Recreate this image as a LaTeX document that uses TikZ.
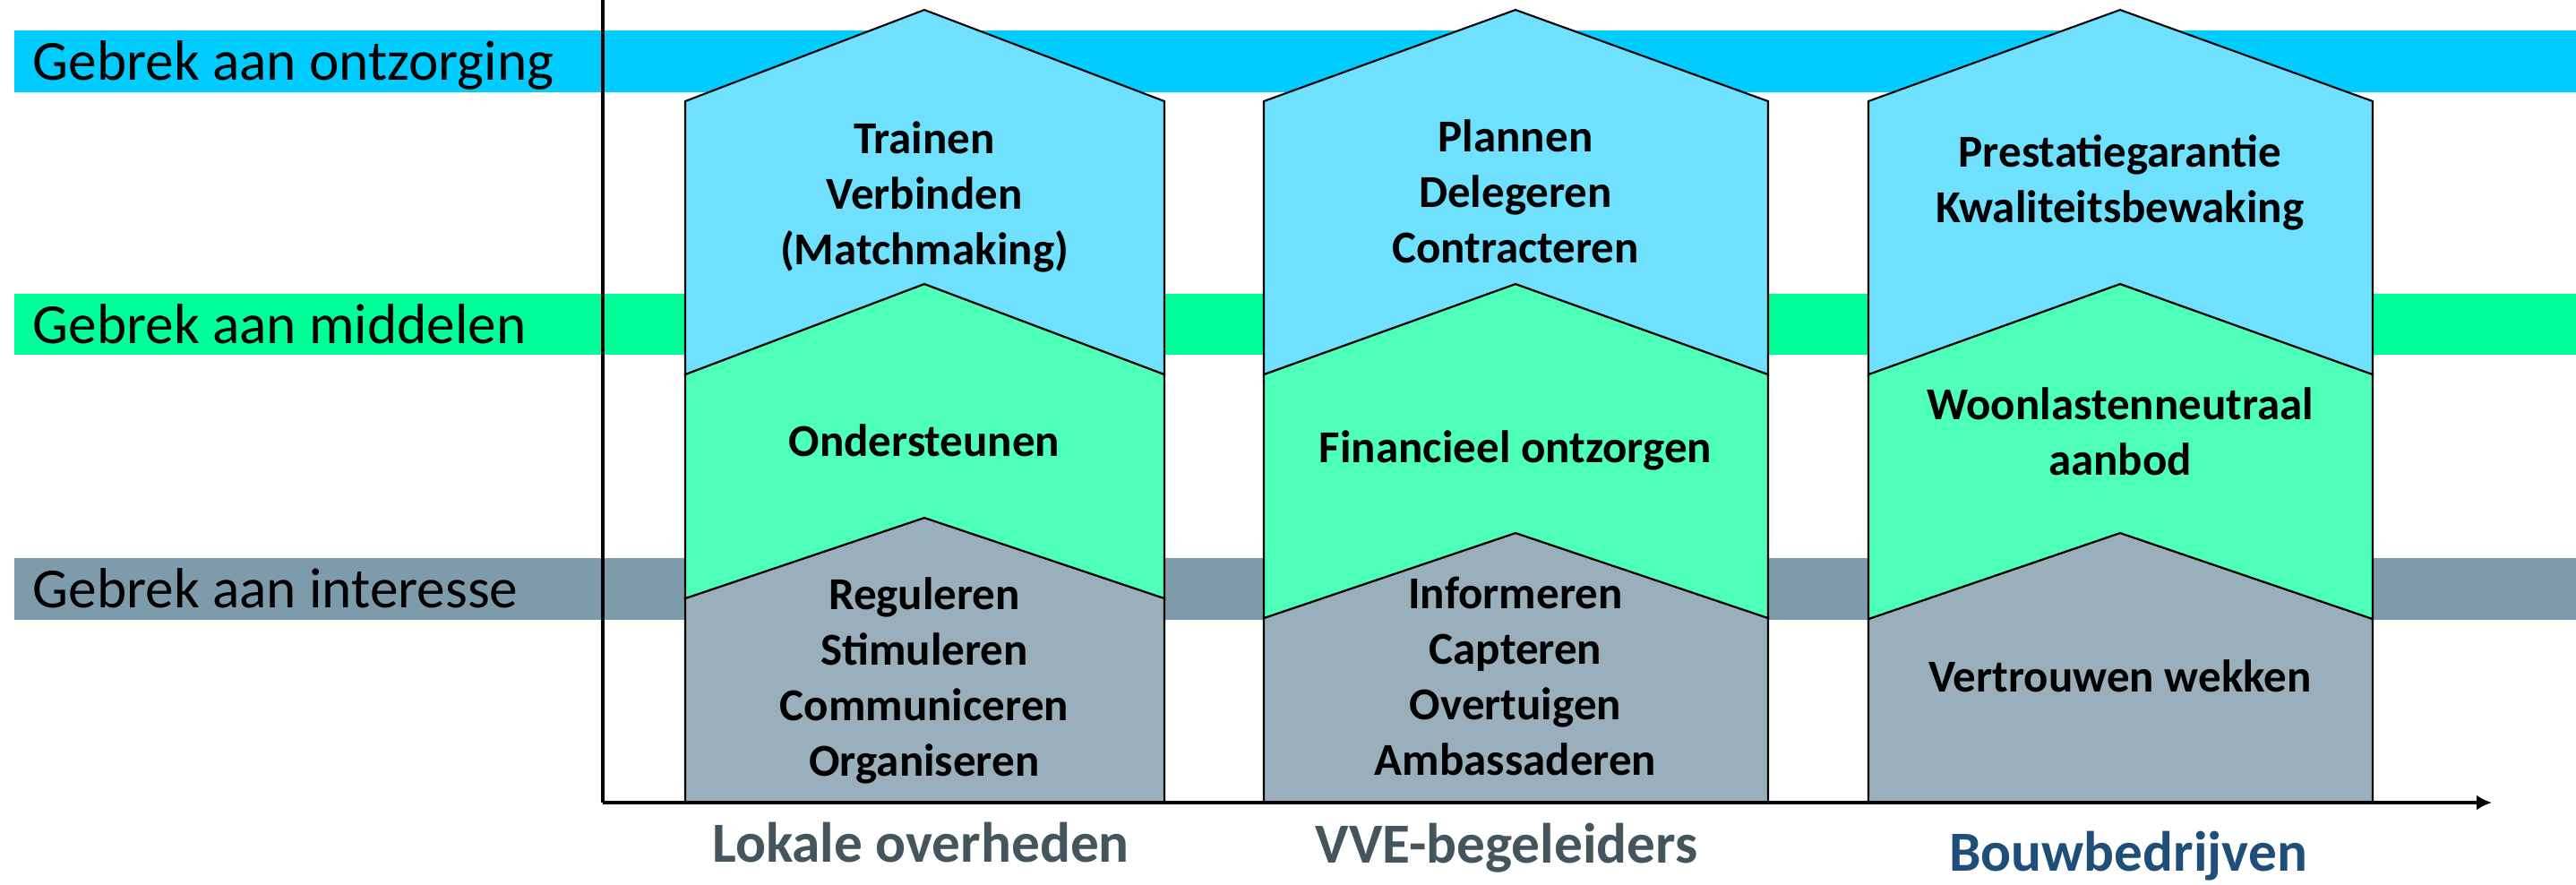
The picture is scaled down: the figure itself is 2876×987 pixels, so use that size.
\documentclass[tikz,border=0pt]{standalone}
\usepackage{fontspec}
\setmainfont{Carlito}
\usepackage{tikz}
\usetikzlibrary{arrows.meta,positioning}
\definecolor{ontzband}{HTML}{00CCFF}
\definecolor{ontzchev}{HTML}{6FE1FF}
\definecolor{middband}{HTML}{00FF99}
\definecolor{middchev}{HTML}{4DFFB8}
\definecolor{interband}{HTML}{7E9BAC}
\definecolor{interchev}{HTML}{99AFBC}
\definecolor{actorgrey}{HTML}{44555D}
\definecolor{actorblue}{HTML}{1F4E79}

\begin{document}
\begin{tikzpicture}[x=0.01cm,y=-0.01cm,
	band label/.style={anchor=base west,inner sep=0pt,font=\fontsize{18}{21.6}\selectfont},
	chev/.style={draw=black,line width=0.6pt,line join=miter},
	step text/.style={align=center,inner sep=0pt,font=\bfseries\fontsize{14.5}{17.64}\selectfont},
	actor/.style={anchor=base,inner sep=0pt,font=\bfseries\fontsize{18}{21.6}\selectfont}]

    \useasboundingbox (0,0) rectangle (2876,987);

    % bands
    \fill[ontzband] (16,34) rectangle (2876,103);
    \fill[middband] (16,328) rectangle (2876,396);
    \fill[interband] (16,623) rectangle (2876,692);
    \node[band label] (ontz) at (36,89) {Gebrek aan ontzorging};
    \node[band label] (midd) at (36,383) {Gebrek aan middelen};
    \node[band label] (inter) at (36,678) {Gebrek aan interesse};

    % lokale overheden
    \filldraw[chev,fill=interchev] (765,896) -- (765,668) -- (1032,578) -- (1300,668) -- (1300,896) -- cycle;
    \filldraw[chev,fill=middchev] (765,668) -- (765,418) -- (1032,317) -- (1300,418) -- (1300,668) -- (1032,578) -- cycle;
    \filldraw[chev,fill=ontzchev] (765,418) -- (765,113) -- (1032,11) -- (1300,113) -- (1300,418) -- (1032,317) -- cycle;
    \node[step text] (L1) at (1032,220) {Trainen\\Verbinden\\(Matchmaking)};
    \node[step text,anchor=base] (L2) at (1032,509) {Ondersteunen};
    \node[step text] (L3) at (1032,760) {Reguleren\\Stimuleren\\Communiceren\\Organiseren};

    % vve-begeleiders
    \filldraw[chev,fill=interchev] (1411,896) -- (1411,690) -- (1692,595) -- (1974,690) -- (1974,896) -- cycle;
    \filldraw[chev,fill=middchev] (1411,690) -- (1411,418) -- (1692,317) -- (1974,418) -- (1974,690) -- (1692,595) -- cycle;
    \filldraw[chev,fill=ontzchev] (1411,418) -- (1411,113) -- (1692,11) -- (1974,113) -- (1974,418) -- (1692,317) -- cycle;
    \node[step text] (V1) at (1692,214) {Plannen\\Delegeren\\Contracteren};
    \node[step text,anchor=base] (V2) at (1692,516) {Financieel ontzorgen};
    \node[step text] (V3) at (1692,755) {Informeren\\Capteren\\Overtuigen\\Ambassaderen};

    % bouwbedrijven
    \filldraw[chev,fill=interchev] (2086,896) -- (2086,691) -- (2367,595) -- (2649,691) -- (2649,896) -- cycle;
    \filldraw[chev,fill=middchev] (2086,691) -- (2086,418) -- (2367,317) -- (2649,418) -- (2649,691) -- (2367,595) -- cycle;
    \filldraw[chev,fill=ontzchev] (2086,418) -- (2086,113) -- (2367,11) -- (2649,113) -- (2649,418) -- (2367,317) -- cycle;
    \node[step text] (B1) at (2367,204) {Prestatiegarantie\\Kwaliteitsbewaking};
    \node[step text] (B2) at (2367,482) {Woonlastenneutraal\\aanbod};
    \node[step text,anchor=base] (B3) at (2367,772) {Vertrouwen wekken};

    % axes
    \coordinate (ytop) at (673,0);
    \coordinate (origin) at (673,896);
    \coordinate (xend) at (2782,896);
    \draw[line width=0.9pt] (ytop) -- (origin);
    \draw[line width=0.9pt,-{Latex[length=0.17cm,width=0.17cm]}] (origin) -- (xend);

    \node[actor,text=actorgrey] (lokaal) at (1028,962) {Lokale overheden};
    \node[actor,text=actorgrey] (vve) at (1682,963) {VVE-begeleiders};
    \node[actor,text=actorblue] (bouw) at (2376,972) {Bouwbedrijven};

\end{tikzpicture}
\end{document}
